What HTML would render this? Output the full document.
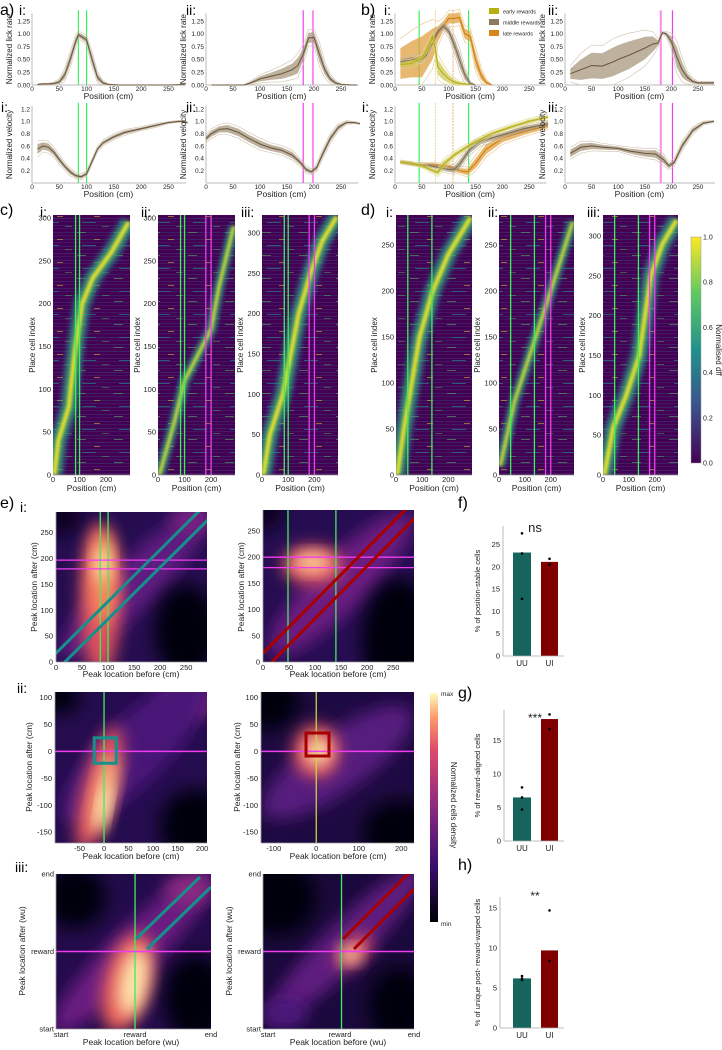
<!DOCTYPE html>
<html><head><meta charset="utf-8">
<style>
html,body{margin:0;padding:0;background:#fff;}
svg{display:block;font-family:"Liberation Sans",sans-serif;}
</style></head>
<body>
<svg id="fig" width="722" height="1050" viewBox="0 0 722 1050" xmlns="http://www.w3.org/2000/svg">
<defs>
<filter id="blur8" x="-50%" y="-50%" width="200%" height="200%"><feGaussianBlur stdDeviation="8"/></filter>
<filter id="blur3" x="-50%" y="-50%" width="200%" height="200%"><feGaussianBlur stdDeviation="2.5"/></filter>
<filter id="blur1" x="-50%" y="-50%" width="200%" height="200%"><feGaussianBlur stdDeviation="1.2"/></filter>
<pattern id="streaks" width="6" height="7" patternUnits="userSpaceOnUse">
<rect x="0" y="1" width="6" height="1" fill="#31688e" opacity="0.3"/>
<rect x="0" y="4" width="6" height="1" fill="#3b528b" opacity="0.25"/>
</pattern>
<pattern id="speckle" width="37" height="23" patternUnits="userSpaceOnUse">
<rect x="3" y="2" width="9" height="1" fill="#5ec962" opacity="0.5"/>
<rect x="20" y="9" width="6" height="1" fill="#fde725" opacity="0.45"/>
<rect x="8" y="15" width="14" height="1" fill="#21918c" opacity="0.6"/>
<rect x="28" y="19" width="7" height="1" fill="#5ec962" opacity="0.4"/>
</pattern>
<linearGradient id="viridisGrad" x1="0" y1="1" x2="0" y2="0">
<stop offset="0" stop-color="#440154"/><stop offset="0.25" stop-color="#3b528b"/><stop offset="0.5" stop-color="#21918c"/><stop offset="0.75" stop-color="#5ec962"/><stop offset="1" stop-color="#fde725"/>
</linearGradient>
<linearGradient id="magmaGrad" x1="0" y1="1" x2="0" y2="0">
<stop offset="0" stop-color="#000004"/><stop offset="0.25" stop-color="#3b0f70"/><stop offset="0.5" stop-color="#8c2981"/><stop offset="0.75" stop-color="#de4968"/><stop offset="0.9" stop-color="#fe9f6d"/><stop offset="1" stop-color="#fcfdbf"/>
</linearGradient>
</defs>
<g font-size="16" fill="#000">
<text x="0" y="15">a)</text>
<text x="361" y="15">b)</text>
<text x="0" y="215">c)</text>
<text x="361" y="215">d)</text>
<text x="0" y="508">e)</text>
<text x="458" y="508">f)</text>
<text x="458" y="698">g)</text>
<text x="458" y="870">h)</text>
</g>
<g font-size="14" fill="#000">
<text x="19" y="15">i:</text>
<text x="186" y="15">ii:</text>
<text x="1" y="112">i:</text>
<text x="186" y="112">ii:</text>
<text x="384" y="15">i:</text>
<text x="548" y="15">ii:</text>
<text x="362" y="112">i:</text>
<text x="548" y="112">ii:</text>
<text x="40" y="217">i:</text>
<text x="141" y="217">ii:</text>
<text x="241" y="217">iii:</text>
<text x="386" y="217">i:</text>
<text x="488" y="217">ii:</text>
<text x="587" y="217">iii:</text>
<text x="20" y="512">i:</text>
<text x="17" y="693">ii:</text>
<text x="15" y="872">iii:</text>
</g>
<g id="layer"></g>
</svg>
<script>
// ---------- data: line panels ----------
const aiLickX=[10,20,30,40,50,60,70,80,85,90,100,110,120,130,140,160,200,250,280];
const aiLickY=[0.01,0.02,0.02,0.03,0.06,0.2,0.5,0.85,0.98,0.95,0.88,0.5,0.15,0.04,0.01,0,0,0,0.01];
const aiLickSd=[0.01,0.01,0.01,0.02,0.04,0.08,0.1,0.08,0.05,0.05,0.06,0.1,0.07,0.03,0.01,0,0,0,0];
const aiiLickX=[10,40,70,80,100,120,140,160,170,180,190,200,210,220,230,240,250,270,280];
const aiiLickY=[0,0,0,0.03,0.12,0.17,0.22,0.3,0.38,0.6,0.92,0.93,0.6,0.3,0.12,0.04,0.01,0,0];
const aiiLickSd=[0,0,0,0.02,0.05,0.07,0.1,0.12,0.15,0.12,0.1,0.1,0.15,0.1,0.06,0.03,0.01,0,0];
const aiVelX=[10,20,30,40,50,60,70,80,90,100,110,120,130,150,170,200,230,250,270,285];
const aiVelY=[0.55,0.6,0.58,0.5,0.38,0.27,0.18,0.12,0.1,0.15,0.35,0.55,0.65,0.75,0.82,0.88,0.94,0.98,1.0,0.98];
const aiVelSd=[0.08,0.06,0.06,0.05,0.05,0.04,0.04,0.03,0.03,0.03,0.03,0.03,0.03,0.03,0.03,0.02,0.02,0.01,0.01,0.01];
const aiiVelX=[0,10,25,40,60,80,100,120,140,160,175,185,195,205,215,230,245,260,275,285];
const aiiVelY=[0.72,0.8,0.87,0.88,0.82,0.72,0.63,0.57,0.53,0.45,0.33,0.22,0.18,0.25,0.45,0.72,0.9,0.98,0.98,0.96];
const aiiVelSd=[0.04,0.05,0.05,0.06,0.06,0.06,0.06,0.05,0.05,0.05,0.04,0.04,0.03,0.04,0.05,0.05,0.04,0.02,0.01,0.01];
const biEarlyX=[10,30,50,60,70,75,80,90,100,110,120,130,140];
const biEarlyY=[0.4,0.42,0.52,0.7,0.95,0.7,0.35,0.22,0.12,0.06,0.03,0.02,0];
const biEarlySd=[0.05,0.05,0.05,0.08,0.05,0.1,0.15,0.12,0.08,0.05,0.03,0.02,0];
const biMidX=[10,30,50,60,70,80,90,100,110,120,130,140,150];
const biMidY=[0.45,0.5,0.5,0.6,0.85,1.05,1.15,1.05,0.8,0.5,0.2,0.03,0];
const biMidSd=[0.05,0.05,0.05,0.06,0.06,0.05,0.05,0.08,0.12,0.15,0.1,0.03,0];
const biLateX=[10,30,50,70,80,90,100,110,120,130,140,150,160,170,180];
const biLateY=[0.42,0.5,0.55,0.8,1.0,1.15,1.3,1.3,1.32,1.0,0.95,0.5,0.2,0.05,0];
const biLateSd=[0.3,0.35,0.4,0.3,0.15,0.1,0.1,0.1,0.1,0.1,0.1,0.15,0.1,0.04,0];
const biiLickX=[10,30,50,70,90,100,120,150,165,175,183,190,200,210,220,230,240,250,280];
const biiLickY=[0.22,0.3,0.38,0.37,0.45,0.5,0.58,0.72,0.8,0.82,1.02,1.0,0.85,0.55,0.3,0.15,0.07,0.04,0.04];
const biiLickSd=[0.1,0.2,0.25,0.25,0.28,0.28,0.27,0.22,0.15,0.05,0.02,0.03,0.1,0.2,0.15,0.08,0.04,0.02,0.02];
const biVelEarlyX=[10,30,50,70,80,90,110,140,180,220,250,285];
const biVelEarlyY=[0.34,0.32,0.28,0.2,0.17,0.3,0.45,0.62,0.8,0.92,1.0,1.07];
const biVelEarlySd=[0.02,0.02,0.02,0.03,0.04,0.06,0.04,0.03,0.03,0.03,0.03,0.03];
const biVelMidX=[10,40,70,100,110,120,140,160,200,240,285];
const biVelMidY=[0.34,0.3,0.27,0.22,0.22,0.3,0.55,0.68,0.78,0.88,0.96];
const biVelMidSd=[0.02,0.02,0.03,0.04,0.05,0.07,0.06,0.05,0.04,0.04,0.03];
const biVelLateX=[10,40,70,100,120,135,150,170,200,240,285];
const biVelLateY=[0.34,0.3,0.3,0.27,0.2,0.18,0.32,0.55,0.72,0.83,0.93];
const biVelLateSd=[0.02,0.02,0.02,0.03,0.04,0.05,0.08,0.08,0.06,0.05,0.04];
const biiVelX=[10,30,50,70,100,120,150,170,185,195,205,220,240,260,280];
const biiVelY=[0.48,0.58,0.6,0.58,0.56,0.52,0.48,0.47,0.38,0.28,0.33,0.6,0.85,0.97,1.0];
const biiVelSd=[0.06,0.06,0.05,0.04,0.03,0.04,0.05,0.06,0.06,0.04,0.04,0.05,0.04,0.02,0.01];
const posTicks=[0,50,100,150,200,250];
const lickTicks=[0,0.25,0.5,0.75,1.0,1.25];
const velTicks=[0.2,0.4,0.6,0.8,1.0,1.2];
// ---------- data: heatmap ridges (position cm, cell index) ----------
const ciRidgePos=[5,20,60,70,85,110,150,220,285];
const ciRidgeIdx=[0,40,80,110,150,200,230,260,295];
const ciiRidgePos=[5,60,100,200,230,285];
const ciiRidgeIdx=[0,60,110,170,220,290];
const ciiiRidgePos=[5,30,80,110,140,185,230,285];
const ciiiRidgeIdx=[0,50,100,150,200,250,290,320];
const diRidgePos=[5,30,60,90,140,200,285];
const diRidgeIdx=[0,50,100,150,200,240,280];
const diiRidgePos=[5,60,130,200,285];
const diiRidgeIdx=[10,80,140,200,275];
const diiiRidgePos=[5,40,90,140,185,230,285];
const diiiRidgeIdx=[0,60,100,150,250,290,320];
const heatPosTicks=[0,100,200];
// ---------- data: bar charts ----------
const barCats=["UU","UI"];
const fVals=[23.2,21.1];
const fPtsUU=[27.5,23.0,12.8];
const fPtsUI=[21.8,20.5];
const gVals=[6.5,18.2];
const gPtsUU=[8.0,6.5,4.7];
const gPtsUI=[18.9,16.7];
const hVals=[6.2,9.7];
const hPtsUU=[6.5,6.2,6.0];
const hPtsUI=[14.7,8.4];

const NS='http://www.w3.org/2000/svg';
const layer=document.getElementById('layer');
function mk(tag,parent){const e=document.createElementNS(NS,tag);(parent||layer).appendChild(e);return e;}
function txt(parent,x,y,s,size,anchor,rot,name){
  const t=mk('text',parent);
  
  
  t.setAttribute('x',x);t.setAttribute('y',y);t.setAttribute('font-size',size);
  t.setAttribute('fill','#222');
  if(anchor)t.setAttribute('text-anchor',anchor);
  if(rot)t.setAttribute('transform','rotate(-90 '+x+' '+y+')');
  t.textContent=s;return t;}
function line(parent,x1,y1,x2,y2,color,w,name,dash){
  const l=mk('line',parent);
  
  
  l.setAttribute('x1',x1);l.setAttribute('y1',y1);l.setAttribute('x2',x2);l.setAttribute('y2',y2);
  l.setAttribute('stroke',color);l.setAttribute('stroke-width',w);
  if(dash)l.setAttribute('stroke-dasharray',dash);
  return l;}

const GREEN='#3cf05a', MAG='#f03cf0', MAG2='#f78bf0';

// ---------- line panels ----------
function linePanel(name,x0,kx,y0,ky,yTicks,yFmt,yTopVal,ytitle,vlines){
  const g=mk('g');
  
  
  const sx=v=>x0+v*kx, sy=v=>y0-v*ky;
  line(g,x0,y0,sx(282),y0,'#bbb',1,'x-axis');
  line(g,x0,y0,x0,sy(yTopVal),'#bbb',1,'y-axis');
  posTicks.forEach(v=>{txt(g,sx(v),y0+6,String(v),6.5,'middle',false,'x-tick-label');});
  yTicks.forEach(v=>{txt(g,x0-2,sy(v)+2.3,yFmt(v),6.5,'end',false,'y-tick-label');});
  txt(g,(x0+sx(280))/2,y0+14,'Position (cm)',8.5,'middle',false,'x-axis-title');
  txt(g,x0-20,(y0+sy(yTopVal))/2,ytitle,8,'middle',true,'y-axis-title');
  vlines.forEach(v=>{line(g,sx(v[0]),sy(yTopVal)-3,sx(v[0]),y0,v[1],v[2]||1.2,'reward-zone-line',v[3]);});
  return {g,sx,sy};}
function series(P,xs,ys,sd,bandColor,lineColor,thinColor,name){
  const up=xs.map((x,i)=>P.sx(x)+','+P.sy(ys[i]+sd[i]));
  const dn=xs.map((x,i)=>P.sx(x)+','+P.sy(Math.max(0,ys[i]-sd[i]))).reverse();
  const band=mk('polygon',P.g);
  
  
  band.setAttribute('points',up.concat(dn).join(' '));
  band.setAttribute('fill',bandColor);band.setAttribute('opacity','0.75');
  [1.6,-1.6].forEach(f=>{
    const t=mk('polyline',P.g);
    
    
    t.setAttribute('points',xs.map((x,i)=>P.sx(x)+','+P.sy(Math.max(0,ys[i]+f*sd[i]))).join(' '));
    t.setAttribute('fill','none');t.setAttribute('stroke',thinColor);t.setAttribute('stroke-width','0.6');});
  const m=mk('polyline',P.g);
  
  
  m.setAttribute('points',xs.map((x,i)=>P.sx(x)+','+P.sy(ys[i])).join(' '));
  m.setAttribute('fill','none');m.setAttribute('stroke',lineColor);m.setAttribute('stroke-width','1.1');}
const fmt2=v=>v.toFixed(2), fmt1=v=>v.toFixed(1);
const BR='#a8987f', BRL='#6b5941', BRT='#cfc1ad';
let P;
P=linePanel('lick-a-i',32,0.546,85,51.2,lickTicks,fmt2,1.4,'Normalized lick rate',[[85,GREEN],[100,GREEN]]);
series(P,aiLickX,aiLickY,aiLickSd,BR,BRL,BRT,'lick-a-i');
P=linePanel('lick-a-ii',206,0.54,85,51.2,lickTicks,fmt2,1.4,'Normalized lick rate',[[180,MAG],[198,MAG2,2]]);
series(P,aiiLickX,aiiLickY,aiiLickSd,BR,BRL,BRT,'lick-a-ii');
P=linePanel('velocity-a-i',32,0.546,183,61.7,velTicks,fmt1,1.25,'Normalized velocity',[[85,GREEN],[100,GREEN]]);
series(P,aiVelX,aiVelY,aiVelSd,BR,BRL,BRT,'velocity-a-i');
P=linePanel('velocity-a-ii',206,0.54,183,61.7,velTicks,fmt1,1.25,'Normalized velocity',[[180,MAG],[198,MAG2,2]]);
series(P,aiiVelX,aiiVelY,aiiVelSd,BR,BRL,BRT,'velocity-a-ii');
P=linePanel('lick-b-i',395,0.537,85,51.2,lickTicks,fmt2,1.4,'Normalized lick rate',[[45,GREEN],[137,GREEN],[75,'#d8cf7a',0.8,'2,1'],[108,'#e6a050',0.8,'2,1']]);
series(P,biLateX,biLateY,biLateSd,'#e0a040','#d07e0a','#e9c48a','lick-late');
series(P,biMidX,biMidY,biMidSd,BR,'#7d6b52',BRT,'lick-middle');
series(P,biEarlyX,biEarlyY,biEarlySd,'#cfc95a','#b7ae0f','#ddd88f','lick-early');
P=linePanel('lick-b-ii',565,0.532,85,51.2,lickTicks,fmt2,1.4,'Normalized lick rate',[[180,MAG2,2],[202,MAG]]);
series(P,biiLickX,biiLickY,biiLickSd,BR,BRL,BRT,'lick-b-ii');
P=linePanel('velocity-b-i',395,0.537,183,61.7,velTicks,fmt1,1.25,'Normalized velocity',[[45,GREEN],[137,GREEN],[75,'#d8cf7a',0.8,'2,1'],[108,'#e6a050',0.8,'2,1']]);
series(P,biVelLateX,biVelLateY,biVelLateSd,'#e0a040','#d07e0a','#e9c48a','velocity-late');
series(P,biVelMidX,biVelMidY,biVelMidSd,BR,'#7d6b52',BRT,'velocity-middle');
series(P,biVelEarlyX,biVelEarlyY,biVelEarlySd,'#cfc95a','#b7ae0f','#ddd88f','velocity-early');
P=linePanel('velocity-b-ii',565,0.532,183,61.7,velTicks,fmt1,1.25,'Normalized velocity',[[180,MAG2,2],[202,MAG]]);
series(P,biiVelX,biiVelY,biiVelSd,BR,BRL,BRT,'velocity-b-ii');
// legend
[['early rewards','#b7ae0f',12],['middle rewards','#8c7b62',23],['late rewards','#d8861a',34]].forEach(r=>{
  const s=mk('rect');
  
  
  s.setAttribute('x',489);s.setAttribute('y',r[2]-4);s.setAttribute('width',10);s.setAttribute('height',6);s.setAttribute('fill',r[1]);
  txt(layer,503,r[2]+1.5,r[0],5.5,'start',false,'legend-entry');});

// ---------- viridis heatmaps ----------
function heatPanel(name,x0,x1,top,bottom,idxK,idxTicks,rpos,ridx,strength,vlines,ylabX){
  const g=mk('g');
  
  
  const kx=(x1-x0)/290, sx=v=>x0+v*kx, sy=v=>bottom-v*idxK;
  const cp=mk('clipPath',g);cp.setAttribute('id','cp-'+name);
  const cr=mk('rect',cp);cr.setAttribute('x',x0);cr.setAttribute('y',top);cr.setAttribute('width',x1-x0);cr.setAttribute('height',bottom-top);
  const inner=mk('g',g);inner.setAttribute('clip-path','url(#cp-'+name+')');
  const bg=mk('rect',inner);
  
  
  bg.setAttribute('x',x0);bg.setAttribute('y',top);bg.setAttribute('width',x1-x0);bg.setAttribute('height',bottom-top);bg.setAttribute('fill','#440154');
  ['url(#streaks)','url(#speckle)'].forEach(f=>{
    const tex=mk('rect',inner);
    
    
    tex.setAttribute('x',x0);tex.setAttribute('y',top);tex.setAttribute('width',x1-x0);tex.setAttribute('height',bottom-top);tex.setAttribute('fill',f);});
  const pts=rpos.map((p,i)=>sx(p)+','+sy(ridx[i])).join(' ');
  [['#21918c',18*strength,0.6,'url(#blur3)'],['#5ec962',9*strength,0.7,'url(#blur3)'],['#fde725',4*strength,0.85,'url(#blur1)']].forEach(st=>{
    const r=mk('polyline',inner);
    
    
    r.setAttribute('points',pts);r.setAttribute('fill','none');r.setAttribute('stroke',st[0]);
    r.setAttribute('stroke-width',st[1]);r.setAttribute('opacity',st[2]);
    if(st[3])r.setAttribute('filter',st[3]);});
  vlines.forEach(v=>{line(inner,sx(v[0]),top,sx(v[0]),bottom,v[1],1.3,'reward-zone-line');});
  line(g,x0,bottom,x1,bottom,'#999',0.8,'x-axis');
  idxTicks.forEach(v=>{txt(g,x0-2,sy(v)+2.5,String(v),7.5,'end',false,'y-tick-label');});
  heatPosTicks.forEach(v=>{txt(g,sx(v),bottom+7,String(v),7.5,'middle',false,'x-tick-label');});
  txt(g,(x0+x1)/2,bottom+16,'Position (cm)',8.5,'middle',false,'x-axis-title');
  txt(g,ylabX,(top+bottom)/2,'Place cell index',8,'middle',true,'y-axis-title');}
const t300=[0,50,100,150,200,250,300], t250=[0,50,100,150,200,250];
const Gv=[[85,GREEN],[100,GREEN]], GMv=[[85,GREEN],[100,GREEN],[180,MAG],[200,MAG]];
const G2=[[45,GREEN],[137,GREEN]], G2M=[[45,GREEN],[137,GREEN],[180,MAG],[200,MAG]];
heatPanel('heatmap-c-i',53,130,215,475,0.857,t300,ciRidgePos,ciRidgeIdx,1,Gv,35);
heatPanel('heatmap-c-ii',158,235,215,475,0.857,t300,ciiRidgePos,ciiRidgeIdx,0.6,GMv,140);
heatPanel('heatmap-c-iii',262,338,215,475,0.807,t300,ciiiRidgePos,ciiiRidgeIdx,1,GMv,243);
heatPanel('heatmap-d-i',396,472,215,475,0.92,t250,diRidgePos,diRidgeIdx,1,G2,377);
heatPanel('heatmap-d-ii',499,574,215,475,0.92,t250,diiRidgePos,diiRidgeIdx,0.6,G2M,480);
heatPanel('heatmap-d-iii',603,678,215,475,0.797,t300,diiiRidgePos,diiiRidgeIdx,1,G2M,585);
// viridis colorbar
(function(){
  const r=mk('rect');
  
  
  r.setAttribute('x',691);r.setAttribute('y',237);r.setAttribute('width',10);r.setAttribute('height',226);r.setAttribute('fill','url(#viridisGrad)');r.setAttribute('stroke','#999');r.setAttribute('stroke-width','0.5');
  [0,0.2,0.4,0.6,0.8,1.0].forEach(v=>{txt(layer,703,463-v*226+2.5,v.toFixed(1),7,'start',false,'colorbar-tick-label');});
  const t=txt(layer,716,350,'Normalised dff',8,'middle',false,'colorbar-title');
  t.setAttribute('transform','rotate(90 716 350)');
})();

// ---------- density panels ----------
function densPanel(name,x0,x1,top,bottom,dx0,dx1,dy0,dy1,base,blobs){
  const g=mk('g');
  
  
  const kx=(x1-x0)/(dx1-dx0), ky=(bottom-top)/(dy1-dy0);
  const sx=v=>x0+(v-dx0)*kx, sy=v=>bottom-(v-dy0)*ky;
  const cp=mk('clipPath',g);cp.setAttribute('id','cp-'+name);
  const cr=mk('rect',cp);cr.setAttribute('x',x0);cr.setAttribute('y',top);cr.setAttribute('width',x1-x0);cr.setAttribute('height',bottom-top);
  const inner=mk('g',g);inner.setAttribute('clip-path','url(#cp-'+name+')');
  const bg=mk('rect',inner);
  
  
  bg.setAttribute('x',x0);bg.setAttribute('y',top);bg.setAttribute('width',x1-x0);bg.setAttribute('height',bottom-top);bg.setAttribute('fill',base);
  blobs.forEach(b=>{
    const e=mk('ellipse',inner);
    
    
    const cx=sx(b[0]),cy=sy(b[1]);
    e.setAttribute('cx',cx);e.setAttribute('cy',cy);e.setAttribute('rx',b[2]*kx);e.setAttribute('ry',b[3]*ky);
    e.setAttribute('fill',b[5]);e.setAttribute('filter','url(#blur8)');
    if(b[4])e.setAttribute('transform','rotate('+b[4]+' '+cx+' '+cy+')');});
  line(g,x0,bottom,x1,bottom,'#999',0.8,'x-axis');
  line(g,x0,top,x0,bottom,'#999',0.8,'y-axis');
  return {g:inner,outer:g,sx,sy};}
function diag(D,off,color,x0,x1){
  const l=line(D.g,D.sx(x0),D.sy(x0+off),D.sx(x1),D.sy(x1+off),color,3,'identity-band-edge');
  l.setAttribute('stroke-linecap','butt');}
function ticksXY(D,xt,yt,xfmt,yfmt,bottom,x0){
  xt.forEach(v=>{txt(D.outer,D.sx(v),bottom+8,xfmt(v),7.5,'middle',false,'x-tick-label');});
  yt.forEach(v=>{txt(D.outer,x0-3,D.sy(v)+2.5,yfmt(v),7.5,'end',false,'y-tick-label');});}
const S=v=>String(v);
const TEAL='#13918a', RED='#a80000';
let D;
D=densPanel('density-e-i-uu',56,207,512,662,0,290,0,290,'#250d50',[
 [150,150,200,45,-45,'#5f1a80'],[250,60,60,90,0,'#06040f'],[10,285,40,40,0,'#0a0520'],[260,275,40,25,0,'#7a2482'],
 [85,120,38,150,0,'#e0525d'],[90,165,26,90,0,'#fb8b5f'],[90,190,16,35,0,'#fde2a2']]);
line(D.g,D.sx(85),512,D.sx(85),662,GREEN,1.3,'reward-line');line(D.g,D.sx(100),512,D.sx(100),662,GREEN,1.3,'reward-line');
line(D.g,56,D.sy(180),207,D.sy(180),MAG,1.3,'reward-line');line(D.g,56,D.sy(197),207,D.sy(197),MAG,1.3,'reward-line');
diag(D,17,TEAL,-20,300);diag(D,-17,TEAL,0,310);
ticksXY(D,[0,50,100,150,200,250],[0,50,100,150,200,250],S,S,662,56);
txt(D.outer,131,677,'Peak location before (cm)',8.5,'middle',false,'x-axis-title');
txt(D.outer,37,587,'Peak location after (cm)',8.5,'middle',true,'y-axis-title');
D=densPanel('density-e-i-ui',263,414,510,662,0,290,0,290,'#260d52',[
 [150,150,190,50,-45,'#6b1d81'],[260,40,70,120,0,'#050310'],[5,290,35,40,0,'#0a0520'],
 [95,185,58,38,0,'#e0525d'],[95,190,36,18,0,'#fed89c']]);
line(D.g,D.sx(48),510,D.sx(48),662,GREEN,1.3,'reward-line');line(D.g,D.sx(140),510,D.sx(140),662,GREEN,1.3,'reward-line');
line(D.g,263,D.sy(180),414,D.sy(180),MAG,1.3,'reward-line');line(D.g,263,D.sy(200),414,D.sy(200),MAG,1.3,'reward-line');
diag(D,17,RED,-20,300);diag(D,-17,RED,0,310);
ticksXY(D,[0,50,100,150,200,250],[0,50,100,150,200,250],S,S,662,263);
txt(D.outer,338,677,'Peak location before (cm)',8.5,'middle',false,'x-axis-title');
txt(D.outer,244,587,'Peak location after (cm)',8.5,'middle',true,'y-axis-title');
D=densPanel('density-e-ii-uu',55,207,692,843,-100,210,-170,110,'#240c4e',[
 [-90,100,40,30,0,'#050310'],[185,-140,70,70,0,'#050310'],[170,90,60,30,0,'#7a2482'],[60,0,200,60,-45,'#4a1478'],
 [-10,-70,34,120,15,'#e3555e'],[0,-80,20,75,12,'#fdbb80'],[0,-100,11,42,10,'#fcf0b8']]);
line(D.g,D.sx(0),692,D.sx(0),843,GREEN,1.3,'reward-line');
line(D.g,55,D.sy(0),207,D.sy(0),MAG,1.5,'reward-line');
(function(){const r=mk('rect',D.g);
 
 
 r.setAttribute('x',D.sx(-20));r.setAttribute('y',D.sy(25));r.setAttribute('width',45*0.49);r.setAttribute('height',47*0.54);
 r.setAttribute('fill','none');r.setAttribute('stroke',TEAL);r.setAttribute('stroke-width',3);})();
ticksXY(D,[-50,0,50,100,150,200],[100,50,0,-50,-100,-150],S,S,843,55);
txt(D.outer,131,859,'Peak location before (cm)',8.5,'middle',false,'x-axis-title');
txt(D.outer,32,767,'Peak location after (cm)',8.5,'middle',true,'y-axis-title');
D=densPanel('density-e-ii-ui',261,414,692,843,-130,230,-170,110,'#1e0a42',[
 [-110,90,70,50,0,'#050310'],[200,-150,90,60,0,'#050310'],[50,-20,210,55,-35,'#561a7e'],
 [0,0,55,50,0,'#e0525d'],[5,0,28,26,0,'#fde7ab']]);
line(D.g,D.sx(0),692,D.sx(0),843,'#c8d63c',1.3,'reward-line');
line(D.g,261,D.sy(0),414,D.sy(0),MAG,1.5,'reward-line');
(function(){const r=mk('rect',D.g);
 
 
 r.setAttribute('x',306);r.setAttribute('y',733);r.setAttribute('width',23);r.setAttribute('height',23);
 r.setAttribute('fill','none');r.setAttribute('stroke',RED);r.setAttribute('stroke-width',3);})();
ticksXY(D,[-100,0,100,200],[100,50,0,-50,-100,-150],S,S,843,261);
txt(D.outer,338,859,'Peak location before (cm)',8.5,'middle',false,'x-axis-title');
txt(D.outer,240,767,'Peak location after (cm)',8.5,'middle',true,'y-axis-title');
(function(){
  const r=mk('rect');
  
  
  r.setAttribute('x',430);r.setAttribute('y',693);r.setAttribute('width',8);r.setAttribute('height',229);r.setAttribute('fill','url(#magmaGrad)');
  txt(layer,441,696,'max',6.5,'start',false,'colorbar-max-label');
  txt(layer,441,926,'min',6.5,'start',false,'colorbar-min-label');
  const t=txt(layer,451,805,'Normalized cells density',8,'middle',false,'colorbar-title');
  t.setAttribute('transform','rotate(90 451 805)');
})();
const wuT=[0,0.51,1], wuL=['start','reward','end'];
function wuTicks(D,x0,bottom){
  wuT.forEach((v,i)=>{txt(D.outer,D.sx(v)+(i==0?5:0),bottom+8,wuL[i],7.5,'middle',false,'x-tick-label');});
  wuT.forEach((v,i)=>{txt(D.outer,x0-2,D.sy(i==1?0.5:v)+2.5,wuL[i],7.5,'end',false,'y-tick-label');});}
D=densPanel('density-e-iii-uu',56,211,874,1029,0,1,0,1,'#230b4b',[
 [0.12,0.85,0.2,0.2,0,'#050310'],[0.9,0.2,0.2,0.28,0,'#050310'],[0.5,0.5,0.72,0.15,-45,'#6a1c81'],[0.85,0.9,0.15,0.1,0,'#8a2a80'],
 [0.46,0.3,0.15,0.33,15,'#ea5f5a'],[0.5,0.3,0.09,0.22,10,'#fde7ab']]);
line(D.g,D.sx(0.51),874,D.sx(0.51),1029,GREEN,1.3,'reward-line');
line(D.g,56,D.sy(0.5),211,D.sy(0.5),MAG,1.5,'reward-line');
line(D.g,136,939,200,877,TEAL,3,'identity-band-edge');line(D.g,147,949,211,887,TEAL,3,'identity-band-edge');
wuTicks(D,56,1029);
txt(D.outer,131,1045,'Peak location before (wu)',8.5,'middle',false,'x-axis-title');
txt(D.outer,25,951,'Peak location after  (wu)',8.5,'middle',true,'y-axis-title');
D=densPanel('density-e-iii-ui',263,414,874,1029,0,1,0,1,'#1a093c',[
 [0.1,0.85,0.25,0.25,0,'#050310'],[0.9,0.15,0.2,0.25,0,'#050310'],[0.55,0.55,0.72,0.14,-45,'#5e1a7f'],[0.15,0.1,0.15,0.1,0,'#4a1478'],
 [0.6,0.5,0.14,0.08,-45,'#e0525d'],[0.58,0.48,0.06,0.05,0,'#fde7ab']]);
line(D.g,D.sx(0.52),874,D.sx(0.52),1029,GREEN,1.3,'reward-line');
line(D.g,263,D.sy(0.5),414,D.sy(0.5),MAG,1.5,'reward-line');
line(D.g,343,939,414,868,RED,3,'identity-band-edge');line(D.g,354,949,414,889,RED,3,'identity-band-edge');
wuTicks(D,263,1029);
txt(D.outer,338,1045,'Peak location before (wu)',8.5,'middle',false,'x-axis-title');
txt(D.outer,232,951,'Peak location after  (wu)',8.5,'middle',true,'y-axis-title');

// ---------- bar charts ----------
function barChart(name,axX,y0,k,yTicks,yTop,vals,ptsUU,ptsUI,sig,sigY,ytitle){
  const g=mk('g');
  
  
  const sy=v=>y0-v*k;
  const bx=[513,541], bw=[18,17], cols=['#15645e','#800000'];
  vals.forEach((v,i)=>{
    const r=mk('rect',g);
    
    
    r.setAttribute('x',bx[i]);r.setAttribute('y',sy(v));r.setAttribute('width',bw[i]);r.setAttribute('height',v*k);r.setAttribute('fill',cols[i]);
    txt(g,bx[i]+bw[i]/2,y0+10,barCats[i],8,'middle',false,'x-tick-label');});
  [ptsUU,ptsUI].forEach((pts,i)=>pts.forEach(v=>{
    const c=mk('circle',g);
    
    
    c.setAttribute('cx',bx[i]+bw[i]/2);c.setAttribute('cy',sy(v));c.setAttribute('r',1.3);c.setAttribute('fill','#000');}));
  line(g,axX,y0,564,y0,'#aaa',0.8,'x-axis');
  line(g,axX,y0,axX,yTop,'#aaa',0.8,'y-axis');
  yTicks.forEach(v=>{txt(g,axX-3,sy(v)+2.5,String(v),7.5,'end',false,'y-tick-label');});
  txt(g,535,sigY,sig,sig=='ns'?13:12,'middle',false,'significance-label');
  txt(g,480,(y0+yTop)/2,ytitle,7.5,'middle',true,'y-axis-title');}
barChart('bar-chart-f',503,656,4.46,[0,5,10,15,20,25],526,fVals,fPtsUU,fPtsUI,'ns',532,'% of position-stable cells');
barChart('bar-chart-g',504,841,6.7,[0,5,10,15],710,gVals,gPtsUU,gPtsUI,'***',722,'% of reward-aligned cells');
barChart('bar-chart-h',500,1028,8,[0,5,10,15],897,hVals,hPtsUU,hPtsUI,'**',900,'% of unique post- reward-warped cells');
</script>
</body></html>
